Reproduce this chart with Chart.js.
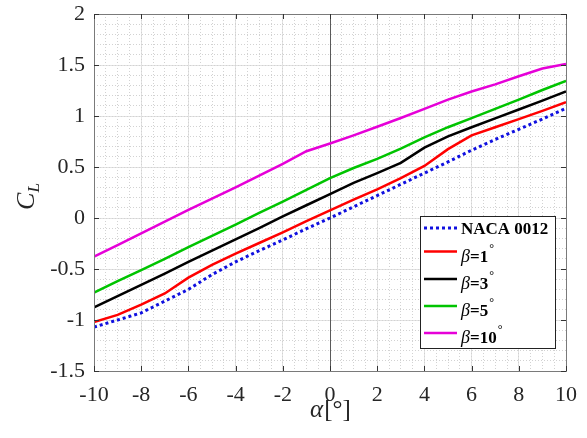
<!DOCTYPE html>
<html>
<head>
<meta charset="utf-8">
<script src="https://cdn.jsdelivr.net/npm/chart.js@4.4.0/dist/chart.umd.min.js"></script>
<style>body{margin:0;background:#fff}</style>
</head>
<body>
<canvas id="clChart" width="587" height="438"></canvas>
<script>
// angle of attack, deg
const alpha = [-10, -9, -8, -7, -6, -5, -4, -3, -2, -1, 0, 1, 2, 3, 4, 5, 6, 7, 8, 9, 10];
// lift coefficient curves
const naca0012 = [-1.07, -1.00, -0.93, -0.815, -0.70, -0.555, -0.43, -0.32, -0.215, -0.105, 0.0, 0.11, 0.22, 0.33, 0.44, 0.55, 0.665, 0.77, 0.87, 0.97, 1.075];
const beta1 = [-1.02, -0.95, -0.85, -0.74, -0.585, -0.46, -0.35, -0.245, -0.14, -0.03, 0.075, 0.18, 0.28, 0.39, 0.51, 0.675, 0.81, 0.89, 0.97, 1.05, 1.135];
const beta3 = [-0.876, -0.765, -0.655, -0.545, -0.43, -0.32, -0.21, -0.10, 0.015, 0.125, 0.235, 0.345, 0.44, 0.54, 0.69, 0.80, 0.89, 0.977, 1.064, 1.15, 1.24];
const beta5 = [-0.732, -0.62, -0.51, -0.40, -0.285, -0.175, -0.065, 0.05, 0.16, 0.275, 0.39, 0.49, 0.58, 0.68, 0.79, 0.89, 0.98, 1.07, 1.16, 1.255, 1.345];
const beta10 = [-0.379, -0.265, -0.15, -0.035, 0.08, 0.19, 0.30, 0.415, 0.53, 0.655, 0.73, 0.81, 0.895, 0.98, 1.07, 1.16, 1.24, 1.31, 1.39, 1.465, 1.51];
const betas = [1, 3, 5, 10];

const serif = '"Liberation Serif", "Times New Roman", serif';

const pts = arr => alpha.map((a, i) => ({x: a, y: arr[i]}));

// frame, inward ticks, zero line, legend and axis titles
const frame = {
    id: 'frame',
    beforeDatasetsDraw(chart) {
        const {ctx, chartArea: a, scales: {x}} = chart;
        const x0 = Math.round(x.getPixelForValue(0)) + 0.5;
        ctx.save();
        ctx.strokeStyle = '#5a5a5a';
        ctx.lineWidth = 1;
        ctx.beginPath();
        ctx.moveTo(x0, a.top);
        ctx.lineTo(x0, a.bottom);
        ctx.stroke();
        ctx.restore();
    },
    afterDraw(chart) {
        const {ctx, chartArea: a, scales: {x, y}} = chart;
        ctx.save();
        ctx.strokeStyle = '#7a7a7a';
        ctx.lineWidth = 1;
        ctx.strokeRect(Math.round(a.left) + 0.5, Math.round(a.top) + 0.5,
            Math.round(a.right - a.left), Math.round(a.bottom - a.top));

        ctx.strokeStyle = '#333';
        ctx.beginPath();
        x.ticks.forEach(t => {
            const px = Math.round(x.getPixelForValue(t.value)) + 0.5;
            ctx.moveTo(px, a.bottom); ctx.lineTo(px, a.bottom - 5);
            ctx.moveTo(px, a.top); ctx.lineTo(px, a.top + 5);
        });
        y.ticks.forEach(t => {
            const py = Math.round(y.getPixelForValue(t.value)) + 0.5;
            ctx.moveTo(a.left, py); ctx.lineTo(a.left + 5, py);
            ctx.moveTo(a.right, py); ctx.lineTo(a.right - 5, py);
        });
        ctx.stroke();

        // legend
        const bx = a.right - 146, by = a.bottom - 155, bw = 135, bh = 132;
        ctx.fillStyle = '#fff';
        ctx.fillRect(bx, by, bw, bh);
        ctx.strokeStyle = '#222';
        ctx.strokeRect(bx + 0.5, by + 0.5, bw, bh);
        const rows = [12, 35.5, 63, 90, 117];
        chart.data.datasets.forEach((ds, i) => {
            const ly = by + rows[i];
            ctx.save();
            ctx.strokeStyle = ds.borderColor;
            ctx.lineWidth = ds.borderWidth;
            ctx.setLineDash(ds.borderDash || []);
            ctx.beginPath();
            ctx.moveTo(bx + 4, ly);
            ctx.lineTo(bx + 37, ly);
            ctx.stroke();
            ctx.restore();
            ctx.fillStyle = '#000';
            ctx.textBaseline = 'alphabetic';
            let tx = bx + 41;
            if (i === 0) {
                ctx.font = 'bold 17px ' + serif;
                ctx.fillText(ds.label, tx, ly + 6);
            } else {
                const base = ly + 10;
                ctx.font = 'italic 18px ' + serif;
                ctx.fillText('β', tx, base);
                tx += ctx.measureText('β').width;
                ctx.font = 'bold 17px ' + serif;
                const s = '=' + betas[i - 1];
                ctx.fillText(s, tx, base);
                tx += ctx.measureText(s).width + 1;
                ctx.font = '12px ' + serif;
                ctx.fillText('°', tx, base - 10);
            }
        });

        // axis titles
        ctx.fillStyle = '#262626';
        ctx.textBaseline = 'alphabetic';
        ctx.font = 'italic 25px ' + serif;
        const t1 = 'α', t2 = '[°]';
        const w1 = ctx.measureText(t1).width;
        ctx.font = '25px ' + serif;
        const w2 = ctx.measureText(t2).width;
        const cx = x.getPixelForValue(0);
        let sx = cx - (w1 + w2) / 2;
        ctx.font = 'italic 25px ' + serif;
        ctx.fillText(t1, sx, 417);
        ctx.font = '25px ' + serif;
        ctx.fillText(t2, sx + w1 + 1, 417);

        ctx.save();
        ctx.translate(34, (a.top + a.bottom) / 2 + 4);
        ctx.rotate(-Math.PI / 2);
        ctx.font = 'italic 26px ' + serif;
        const wc = ctx.measureText('C').width;
        ctx.font = 'italic 17px ' + serif;
        const wl = ctx.measureText('L').width;
        ctx.font = 'italic 26px ' + serif;
        ctx.fillText('C', -(wc + wl) / 2, 0);
        ctx.font = 'italic 17px ' + serif;
        ctx.fillText('L', -(wc + wl) / 2 + wc, 5);
        ctx.restore();
        ctx.restore();
    }
};

const fmt = v => String(Math.round(v * 10) / 10);

const ctx = document.getElementById('clChart').getContext('2d');
new Chart(ctx, {
    type: 'line',
    data: {
        datasets: [
            {label: 'NACA 0012', data: pts(naca0012), borderColor: '#1010e0', borderWidth: 3, borderDash: [3, 3]},
            {label: 'β=1°', data: pts(beta1), borderColor: '#ff0000', borderWidth: 2.5},
            {label: 'β=3°', data: pts(beta3), borderColor: '#000000', borderWidth: 2.5},
            {label: 'β=5°', data: pts(beta5), borderColor: '#00c400', borderWidth: 2.5},
            {label: 'β=10°', data: pts(beta10), borderColor: '#e600d8', borderWidth: 2.5}
        ]
    },
    options: {
        responsive: false,
        animation: false,
        layout: {padding: {left: 0, top: 14, right: 21, bottom: 0}},
        elements: {point: {radius: 0}, line: {tension: 0, fill: false}},
        plugins: {legend: {display: false}, tooltip: {enabled: false}},
        scales: {
            x: {
                type: 'linear', min: -10, max: 10,
                ticks: {stepSize: 2, color: '#262626', font: {family: serif, size: 22}, padding: 11, maxRotation: 0, callback: fmt},
                grid: {color: '#e2e2e2', drawTicks: false},
                border: {display: false},
                afterFit(s) { s.height = 67; s.paddingLeft = 0; s.paddingRight = 0; }
            },
            xm: {
                type: 'linear', axis: 'x', position: 'bottom', min: -10, max: 10,
                ticks: {display: false, stepSize: 0.5},
                grid: {color: '#d2d2d2', drawTicks: false, z: -1},
                border: {display: false, dash: [1, 2]},
                afterFit(s) { s.height = 0; }
            },
            y: {
                type: 'linear', min: -1.5, max: 2,
                ticks: {stepSize: 0.5, color: '#262626', font: {family: serif, size: 22}, padding: 9, callback: fmt},
                grid: {color: '#e2e2e2', drawTicks: false},
                border: {display: false},
                afterFit(s) { s.width = 94; s.paddingTop = 0; s.paddingBottom = 0; }
            },
            ym: {
                type: 'linear', axis: 'y', position: 'left', min: -1.5, max: 2,
                ticks: {display: false, stepSize: 0.1},
                grid: {color: '#d2d2d2', drawTicks: false, z: -1},
                border: {display: false, dash: [1, 2]},
                afterFit(s) { s.width = 0; }
            }
        }
    },
    plugins: [frame]
});
</script>
</body>
</html>
